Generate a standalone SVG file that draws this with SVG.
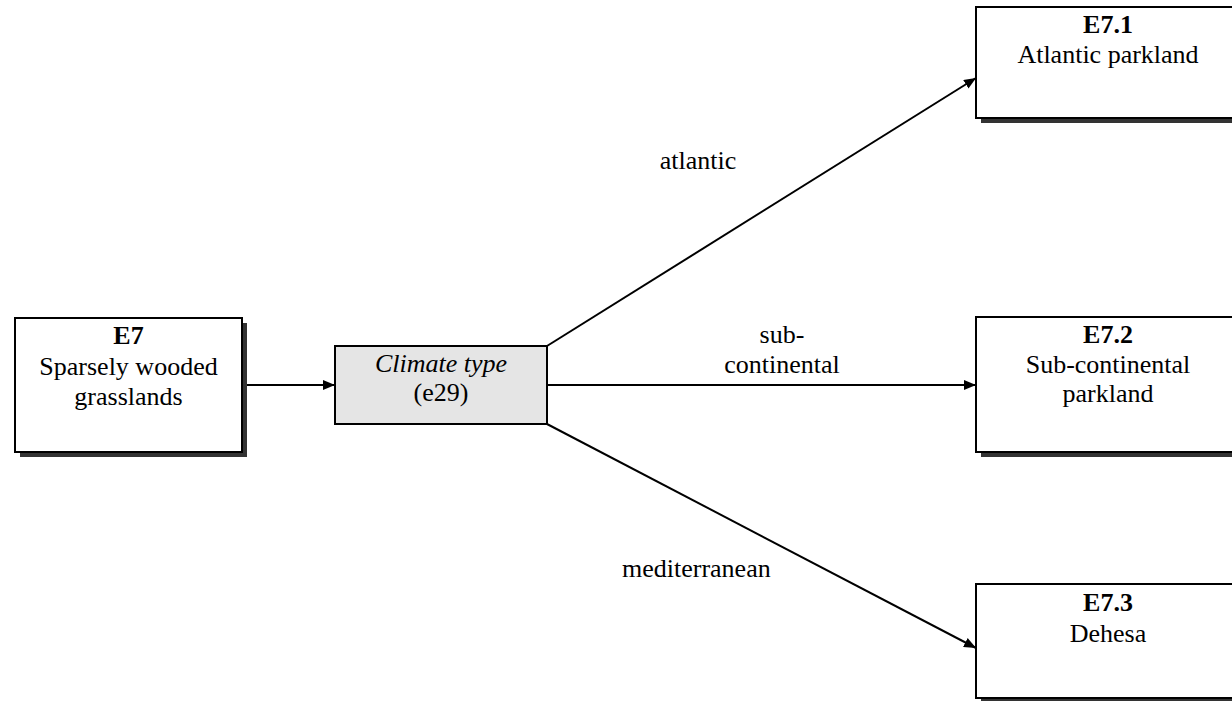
<svg xmlns="http://www.w3.org/2000/svg" width="1232" height="701" viewBox="0 0 1232 701">
  <defs>
    <marker id="arrow" viewBox="0 0 12 10" refX="12" refY="5" markerWidth="12" markerHeight="10" markerUnits="userSpaceOnUse" orient="auto">
      <path d="M0,0 L12,5 L0,10 Z" fill="#000"/>
    </marker>
    <style>
      .shadow { fill: #333; }
      .box { fill: #fff; stroke: #000; stroke-width: 2; }
      .decision { fill: #e5e5e5; stroke: #000; stroke-width: 2; }
      text { font-family: "Liberation Serif", "Times New Roman", serif; font-size: 26px; fill: #000; }
      .c { text-anchor: middle; }
      .b { font-weight: bold; }
      .i { font-style: italic; }
      .edge { stroke: #000; stroke-width: 2; fill: none; marker-end: url(#arrow); }
    </style>
  </defs>

  <rect width="1232" height="701" fill="#fff"/>

  <!-- connectors -->
  <g id="connectors">
    <line class="edge" x1="242" y1="385" x2="335" y2="385"/>
    <line class="edge" x1="547" y1="346" x2="976" y2="78"/>
    <line class="edge" x1="547" y1="385" x2="976" y2="385"/>
    <line class="edge" x1="547" y1="424" x2="976" y2="648"/>
    <text x="698" y="169" class="c">atlantic</text>
    <text x="782" y="343" class="c">sub-</text>
    <text x="782" y="373" class="c">continental</text>
    <text x="622" y="577">mediterranean</text>
  </g>

  <!-- E7 -->
  <g id="node-e7">
    <rect class="shadow" x="20" y="323" width="227" height="134"/>
    <rect class="box" x="15" y="318" width="227" height="134"/>
    <text x="128.5" y="344" class="c b">E7</text>
    <text x="128.5" y="375" class="c">Sparsely wooded</text>
    <text x="128.5" y="405" class="c">grasslands</text>
  </g>

  <!-- climate type decision -->
  <g id="node-climate">
    <rect class="decision" x="335" y="346" width="212" height="78"/>
    <text x="441" y="372" class="c i">Climate type</text>
    <text x="441" y="401" class="c">(e29)</text>
  </g>

  <!-- E7.1 -->
  <g id="node-e7-1">
    <rect class="shadow" x="981" y="12" width="264" height="111"/>
    <rect class="box" x="976" y="7" width="264" height="111"/>
    <text x="1108" y="33" class="c b">E7.1</text>
    <text x="1108" y="63" class="c">Atlantic parkland</text>
  </g>

  <!-- E7.2 -->
  <g id="node-e7-2">
    <rect class="shadow" x="981" y="322" width="264" height="135"/>
    <rect class="box" x="976" y="317" width="264" height="135"/>
    <text x="1108" y="343" class="c b">E7.2</text>
    <text x="1108" y="373" class="c">Sub-continental</text>
    <text x="1108" y="402" class="c">parkland</text>
  </g>

  <!-- E7.3 -->
  <g id="node-e7-3">
    <rect class="shadow" x="981" y="589" width="264" height="114"/>
    <rect class="box" x="976" y="584" width="264" height="114"/>
    <text x="1108" y="611" class="c b">E7.3</text>
    <text x="1108" y="642" class="c">Dehesa</text>
  </g>
</svg>
